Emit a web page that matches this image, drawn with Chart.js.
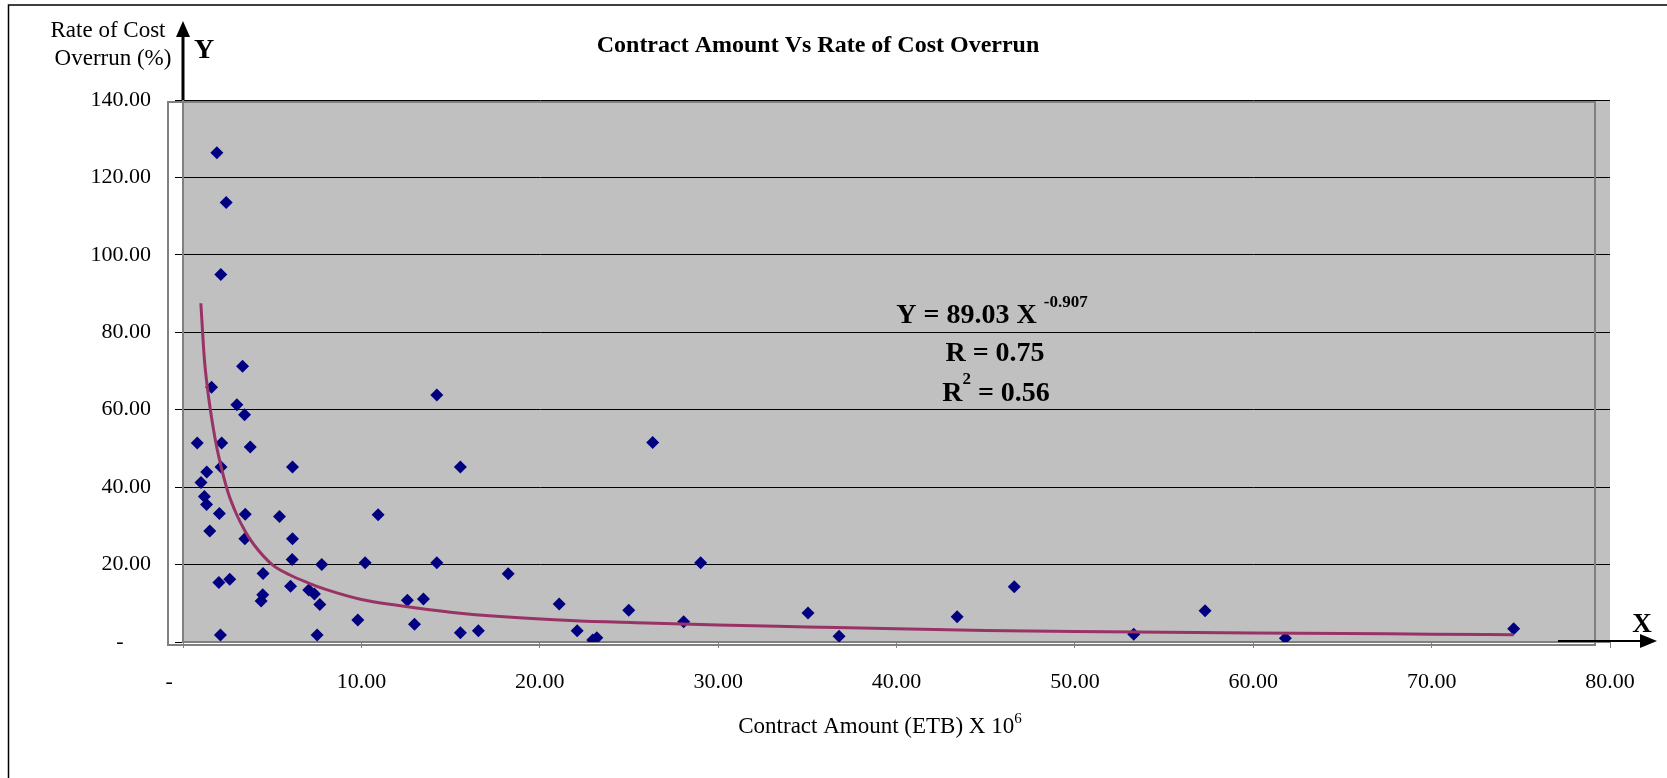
<!DOCTYPE html>
<html lang="en">
<head>
<meta charset="utf-8">
<title>Contract Amount Vs Rate of Cost Overrun</title>
<script src="https://cdn.jsdelivr.net/npm/chart.js@4.4.1/dist/chart.umd.min.js"></script>
<style>
  html, body { margin: 0; padding: 0; background: #fff; }
  canvas { display: block; }
</style>
</head>
<body>
<canvas id="graphe" width="1667" height="778"></canvas>
<script>
// -----------------------------
// --- Données ---
// -----------------------------
// montant du contrat (ETB x 10^6) pour chaque projet
const montantsContrat = [
  1.90, 2.42, 2.12, 3.34, 1.60, 14.23, 3.02, 3.45, 0.80, 2.17,
  3.77, 2.13, 6.14, 15.55, 1.33, 1.01, 1.20, 1.32, 2.04, 3.49,
  5.41, 10.94, 1.50, 3.47, 6.14, 6.12, 7.78, 10.21, 14.23, 2.01,
  2.62, 4.49, 6.03, 4.47, 4.38, 7.05, 7.37, 7.67, 12.58, 13.48,
  9.80, 12.98, 15.55, 16.56, 2.10, 7.52, 18.23, 26.33, 29.02, 21.09,
  22.10, 22.97, 23.20, 24.99, 28.07, 35.04, 36.78, 43.40, 46.60, 53.30,
  57.30, 61.80, 74.60
];
// taux de dépassement des coûts (%) correspondant
const tauxDepassement = [
  126.4, 113.5, 94.9, 71.2, 65.8, 63.8, 61.3, 58.7, 51.4, 51.4,
  50.4, 45.2, 45.2, 45.2, 43.9, 41.2, 37.6, 35.5, 33.2, 33.0,
  32.4, 32.9, 28.7, 26.7, 26.7, 21.3, 20.0, 20.5, 20.5, 15.4,
  16.2, 17.7, 14.4, 12.2, 10.6, 13.4, 12.4, 9.7, 10.8, 11.1,
  5.7, 4.6, 2.4, 2.9, 1.8, 1.8, 17.6, 51.5, 20.5, 9.8,
  2.9, 0.5, 1.1, 8.2, 5.2, 7.5, 1.5, 6.5, 14.3, 2.0,
  8.1, 1.0, 3.4
];
// courbe de tendance (relevée point par point sur l'image)
const tendanceX = [1.0, 1.2, 1.4, 1.6, 1.8, 2.0, 2.5, 3.0, 3.5, 4.0, 5.0, 6.0, 7.0, 8.0, 10.0,
  12.0, 15.0, 18.0, 22.0, 26.0, 30.0, 35.0, 40.0, 45.0, 50.0, 55.0, 60.0, 65.0, 70.0, 74.6];
const tendanceY = [87.5, 73.0, 64.5, 58.0, 52.5, 48.0, 39.0, 33.0, 28.5, 25.0, 20.0, 17.3, 15.3, 13.6, 11.0,
  9.5, 7.7, 6.5, 5.5, 4.9, 4.4, 3.9, 3.4, 3.0, 2.7, 2.5, 2.3, 2.2, 2.0, 1.9];
// graduations des axes
const graduationsX = [0, 10, 20, 30, 40, 50, 60, 70, 80];
const graduationsY = [0, 20, 40, 60, 80, 100, 120, 140];

const policeSerif = "'Liberation Serif', 'Times New Roman', serif";

// format Excel "comptabilité" : zéro affiché comme un tiret (suivi d'espaces, comme dans Excel)
function formatGraduation(v) {
  return v === 0 ? '-     ' : v.toFixed(2);
}

// dessine un texte fait de plusieurs morceaux (pour les exposants), centré sur cx
function texteCompose(ctx, morceaux, cx, y) {
  let total = 0;
  morceaux.forEach(m => { ctx.font = m.font; m.w = ctx.measureText(m.t).width; total += m.w; });
  let x = cx - total / 2;
  ctx.textAlign = 'left';
  morceaux.forEach(m => { ctx.font = m.font; ctx.fillText(m.t, x, y + (m.dy || 0)); x += m.w; });
}

// plugin maison : fond gris, cadre, titres, équation et flèches
const pluginDecor = {
  id: 'decor',
  beforeDraw(chart) {
    const { ctx, chartArea: a } = chart;
    ctx.save();
    ctx.fillStyle = '#c0c0c0'; // fond gris de la zone de traçage
    ctx.fillRect(a.left, a.top + 1, a.right - a.left, a.bottom - a.top);
    ctx.restore();
  },
  beforeDatasetsDraw(chart) {
    const { ctx, chartArea: a } = chart;
    ctx.save();
    ctx.strokeStyle = '#808080'; // cadre gris décalé façon Excel
    ctx.lineWidth = 2;
    ctx.strokeRect(a.left - 15, a.top + 2, (a.right - 15) - (a.left - 15), a.bottom + 3 - (a.top + 2));
    ctx.restore();
  },
  afterDraw(chart) {
    const ctx = chart.ctx;
    ctx.save();
    ctx.fillStyle = '#000';
    ctx.strokeStyle = '#000';

    // bordure extérieure (gauche et haut)
    ctx.lineWidth = 1.5;
    ctx.beginPath();
    ctx.moveTo(8.5, 778);
    ctx.lineTo(8.5, 5);
    ctx.lineTo(1667, 5);
    ctx.stroke();

    ctx.textBaseline = 'alphabetic';

    // titre principal
    ctx.textAlign = 'center';
    ctx.font = `bold 24px ${policeSerif}`;
    ctx.fillText('Contract Amount Vs Rate of Cost Overrun', 818, 52);

    // titre de l'axe Y sur deux lignes
    ctx.font = `23px ${policeSerif}`;
    ctx.fillText('Rate of Cost', 108, 37);
    ctx.fillText('Overrun (%)', 113, 65);

    // titre de l'axe X avec exposant
    texteCompose(ctx, [
      { t: 'Contract Amount (ETB) X 10', font: `23px ${policeSerif}` },
      { t: '6', font: `15px ${policeSerif}`, dy: -10 }
    ], 880, 733);

    // équation de la tendance
    texteCompose(ctx, [
      { t: 'Y = 89.03 X ', font: `bold 28px ${policeSerif}` },
      { t: '-0.907', font: `bold 17px ${policeSerif}`, dy: -16 }
    ], 992, 323);
    texteCompose(ctx, [
      { t: 'R = 0.75', font: `bold 28px ${policeSerif}` }
    ], 995, 361);
    texteCompose(ctx, [
      { t: 'R', font: `bold 28px ${policeSerif}` },
      { t: '2', font: `bold 17px ${policeSerif}`, dy: -17 },
      { t: ' = 0.56', font: `bold 28px ${policeSerif}` }
    ], 996, 401);

    // flèche de l'axe Y
    ctx.lineWidth = 3;
    ctx.beginPath();
    ctx.moveTo(183, 100);
    ctx.lineTo(183, 34);
    ctx.stroke();
    ctx.beginPath();
    ctx.moveTo(183, 21);
    ctx.lineTo(176, 37);
    ctx.lineTo(190, 37);
    ctx.closePath();
    ctx.fill();
    ctx.textAlign = 'left';
    ctx.font = `bold 28px ${policeSerif}`;
    ctx.fillText('Y', 194, 58);

    // flèche de l'axe X
    ctx.lineWidth = 2;
    ctx.beginPath();
    ctx.moveTo(1558, 641);
    ctx.lineTo(1642, 641);
    ctx.stroke();
    ctx.beginPath();
    ctx.moveTo(1657, 641);
    ctx.lineTo(1640, 634);
    ctx.lineTo(1640, 648);
    ctx.closePath();
    ctx.fill();
    ctx.textAlign = 'center';
    ctx.font = `bold 27px ${policeSerif}`;
    ctx.fillText('X', 1642, 632);

    ctx.restore();
  }
};

const canvas = document.getElementById('graphe');
new Chart(canvas.getContext('2d'), {
  type: 'scatter',
  data: {
    datasets: [
      {
        type: 'line', // courbe de tendance (puissance)
        label: 'Power trend',
        data: tendanceX.map((x, i) => ({ x: x, y: tendanceY[i] })),
        borderColor: '#993366',
        borderWidth: 3,
        pointRadius: 0,
        cubicInterpolationMode: 'monotone',
        fill: false
      },
      {
        label: 'Rate of Cost Overrun',
        data: montantsContrat.map((x, i) => ({ x: x, y: tauxDepassement[i] })),
        pointStyle: 'rectRot', // losanges bleu marine
        pointRadius: 6.5,
        backgroundColor: '#000080',
        borderColor: '#000080',
        borderWidth: 0
      }
    ]
  },
  options: {
    responsive: false,
    animation: false,
    layout: { padding: { top: 100, right: 57, left: 0, bottom: 0 } },
    plugins: {
      legend: { display: false },
      title: { display: false },
      tooltip: { enabled: false }
    },
    scales: {
      x: {
        type: 'linear',
        min: 0,
        max: 80,
        afterBuildTicks: s => { s.ticks = graduationsX.map(v => ({ value: v })); },
        afterFit: s => { s.height = 136; },
        ticks: {
          callback: formatGraduation,
          color: '#000',
          font: { family: policeSerif, size: 22 },
          padding: 21,
          maxRotation: 0
        },
        grid: { drawOnChartArea: false, drawTicks: true, tickLength: 6, color: '#808080' },
        border: { color: '#808080', width: 2 }
      },
      y: {
        type: 'linear',
        min: 0,
        max: 140,
        afterBuildTicks: s => { s.ticks = graduationsY.map(v => ({ value: v })); },
        afterFit: s => { s.width = 183; },
        ticks: {
          callback: formatGraduation,
          color: '#000',
          font: { family: policeSerif, size: 22 },
          padding: 24
        },
        grid: { color: '#000', lineWidth: 1, drawTicks: true, tickLength: 8 },
        border: { color: '#808080', width: 2 }
      }
    }
  },
  plugins: [pluginDecor]
});
</script>
</body>
</html>
